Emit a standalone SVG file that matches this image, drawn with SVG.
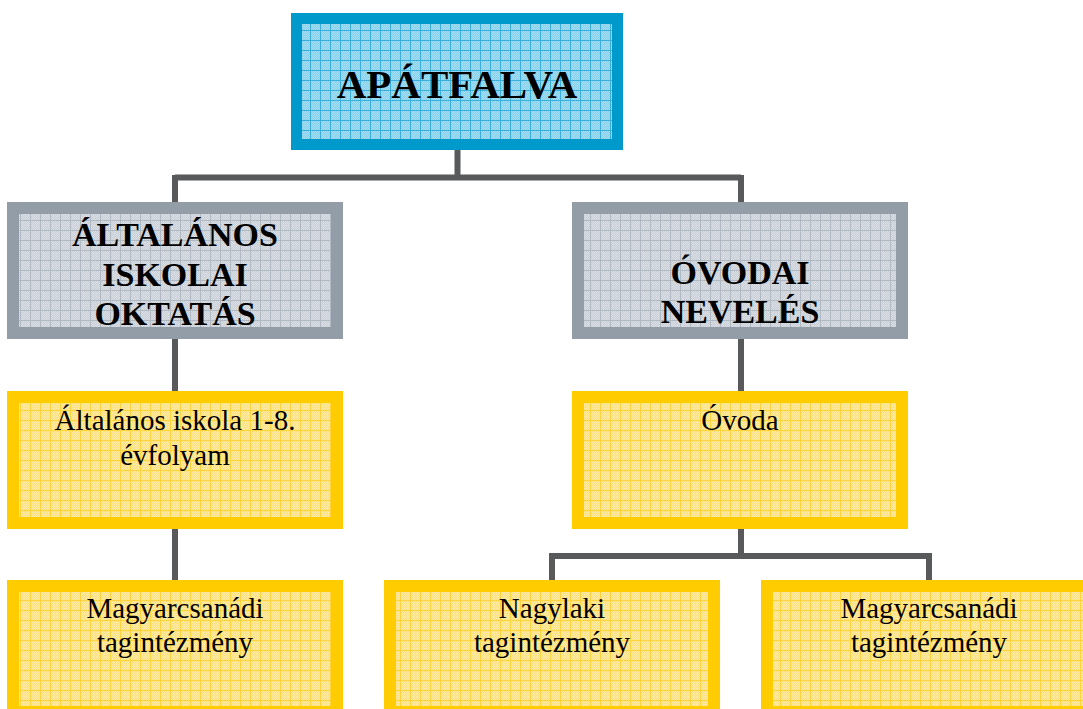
<svg xmlns="http://www.w3.org/2000/svg" width="1083" height="709" viewBox="0 0 1083 709">
<style>
.conn{fill:none;stroke:#58595b;stroke-width:6;stroke-linecap:butt}
.bb{stroke:#0099cc;stroke-width:11}
.gb{stroke:#929da8;stroke-width:12}
.yb{stroke:#ffcc00;stroke-width:12}
.head{font-family:"Liberation Serif","Times New Roman",serif;font-weight:bold;fill:#000;text-anchor:middle}
.body{font-family:"Liberation Serif","Times New Roman",serif;fill:#000;text-anchor:middle;font-size:29px}
</style>
<defs>
<pattern id="chkB" width="2" height="2" patternUnits="userSpaceOnUse"><rect width="2" height="2" fill="#86cfeb"/><rect width="1" height="1" fill="#a6def2"/><rect x="1" y="1" width="1" height="1" fill="#a6def2"/></pattern>
<pattern id="gridB" width="10" height="10" patternUnits="userSpaceOnUse"><rect width="10" height="10" fill="url(#chkB)"/><path d="M0 0.5H10M0.5 0V10" stroke="#3aaedc" stroke-width="1"/></pattern>
<pattern id="chkG" width="2" height="2" patternUnits="userSpaceOnUse"><rect width="2" height="2" fill="#c8ced6"/><rect width="1" height="1" fill="#dce0e6"/><rect x="1" y="1" width="1" height="1" fill="#dce0e6"/></pattern>
<pattern id="gridG" width="10" height="10" patternUnits="userSpaceOnUse"><rect width="10" height="10" fill="url(#chkG)"/><path d="M0 0.5H10M0.5 0V10" stroke="#b0b8c1" stroke-width="1"/></pattern>
<pattern id="chkY" width="2" height="2" patternUnits="userSpaceOnUse"><rect width="2" height="2" fill="#ffe07c"/><rect width="1" height="1" fill="#ffebac"/><rect x="1" y="1" width="1" height="1" fill="#ffebac"/></pattern>
<pattern id="gridY" width="10" height="10" patternUnits="userSpaceOnUse"><rect width="10" height="10" fill="url(#chkY)"/><path d="M0 0.5H10M0.5 0V10" stroke="#ffd33f" stroke-width="1"/></pattern>
</defs>
<rect width="1083" height="709" fill="#fff"/>
<g id="connectors">
<path class="conn" d="M457.5 150V177.5M175 177.5H741M175 175V202M741 175V202"/>
<path class="conn" d="M175 339V391M175 529V580"/>
<path class="conn" d="M741 339V391M741 529V556M552 556H929M552 553V580M929 553V580"/>
</g>
<g id="apatfalva">
<rect class="bb" x="296.5" y="18.5" width="321" height="126" fill="url(#gridB)"/>
<text class="head" x="457" y="98" font-size="41">APÁTFALVA</text>
</g>
<g id="altalanos-oktatas">
<rect class="gb" x="13" y="208" width="324" height="125" fill="url(#gridG)"/>
<text class="head" font-size="34"><tspan x="175" y="246">ÁLTALÁNOS</tspan><tspan x="175" y="286">ISKOLAI</tspan><tspan x="175" y="325">OKTATÁS</tspan></text>
</g>
<g id="ovodai-neveles">
<rect class="gb" x="578" y="208" width="324" height="125" fill="url(#gridG)"/>
<text class="head" font-size="34"><tspan x="740" y="284">ÓVODAI</tspan><tspan x="740" y="323">NEVELÉS</tspan></text>
</g>
<g id="altalanos-iskola">
<rect class="yb" x="13" y="397" width="324" height="126" fill="url(#gridY)"/>
<text class="body"><tspan x="175" y="430">Általános iskola 1-8.</tspan><tspan x="175" y="465">évfolyam</tspan></text>
</g>
<g id="ovoda">
<rect class="yb" x="578" y="397" width="324" height="126" fill="url(#gridY)"/>
<text class="body" x="740" y="430">Óvoda</text>
</g>
<g id="magyarcsanadi-iskola">
<rect class="yb" x="13" y="586" width="324" height="126" fill="url(#gridY)"/>
<text class="body"><tspan x="175" y="618">Magyarcsanádi</tspan><tspan x="175" y="652">tagintézmény</tspan></text>
</g>
<g id="nagylaki">
<rect class="yb" x="390" y="586" width="324" height="126" fill="url(#gridY)"/>
<text class="body"><tspan x="552" y="618">Nagylaki</tspan><tspan x="552" y="652">tagintézmény</tspan></text>
</g>
<g id="magyarcsanadi-ovoda">
<rect class="yb" x="767" y="586" width="324" height="126" fill="url(#gridY)"/>
<text class="body"><tspan x="929" y="618">Magyarcsanádi</tspan><tspan x="929" y="652">tagintézmény</tspan></text>
</g>
</svg>
